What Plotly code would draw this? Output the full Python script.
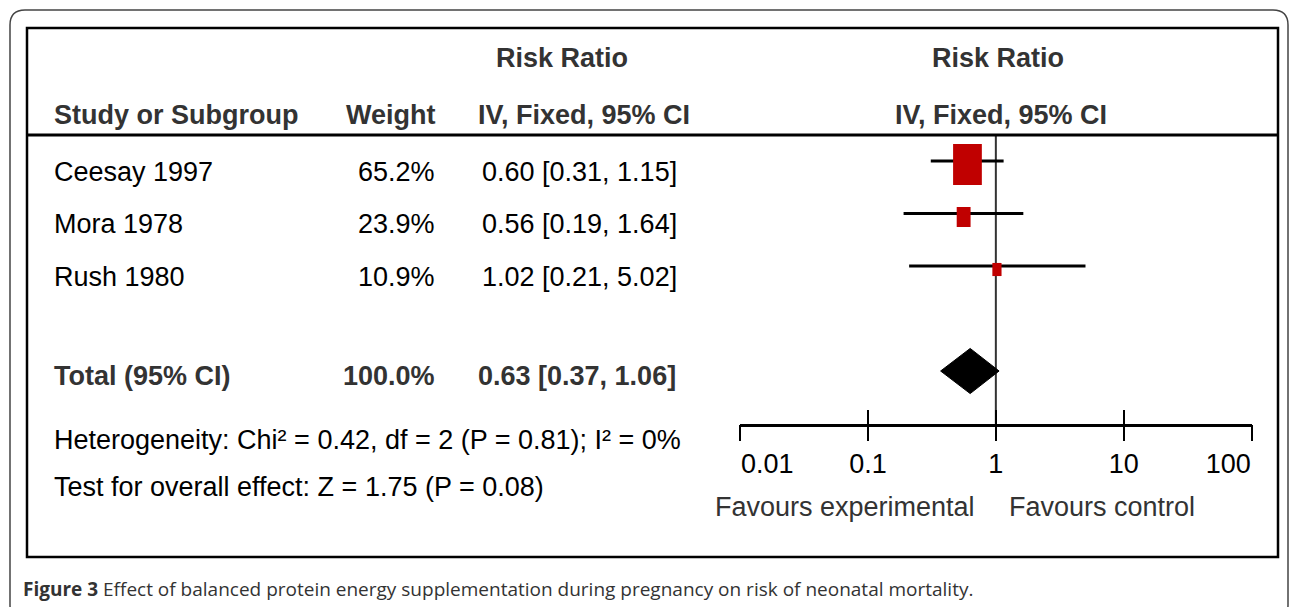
import numpy as np
import plotly.graph_objects as go

# ---------------- data ----------------
studies = ["Ceesay 1997", "Mora 1978", "Rush 1980"]
weights = [65.2, 23.9, 10.9]
rr = [0.60, 0.56, 1.02]
ci_low = [0.31, 0.19, 0.21]
ci_high = [1.15, 1.64, 5.02]

total_label = "Total (95% CI)"
total_weight = 100.0
total_rr = 0.63
total_low = 0.37
total_high = 1.06

tick_values = [0.01, 0.1, 1, 10, 100]
tick_labels = ["0.01", "0.1", "1", "10", "100"]

heterogeneity = "Heterogeneity: Chi² = 0.42, df = 2 (P = 0.81); I² = 0%"
overall_effect = "Test for overall effect: Z = 1.75 (P = 0.08)"
favours_left = "Favours experimental"
favours_right = "Favours control"
caption_bold = "Figure 3"
caption_text = "Effect of balanced protein energy supplementation during pregnancy on risk of neonatal mortality."

# ---------------- layout helpers ----------------
W, H = 1290, 607
def px(x):
    return x / W
def py(y):
    return 1 - y / H

FONT = "Liberation Sans, Arial, sans-serif"
FS = 27
DARK = "#333333"

row_px0 = 161.0      # pixel row of first study mark
row_step = 52.5      # pixel distance between rows
ax_top, ax_bot = 135, 424
y_range = [(ax_bot - row_px0) / row_step, (ax_top - row_px0) / row_step]

lx = np.log10
study_rows = list(range(len(studies)))
total_row = len(studies) + 1
tv = [lx(v) for v in tick_values]

fig = go.Figure()

# CI lines
for i in study_rows:
    fig.add_trace(go.Scatter(
        x=[lx(ci_low[i]), lx(ci_high[i])], y=[i, i], mode="lines",
        line=dict(color="black", width=3), hoverinfo="skip", showlegend=False))

# total diamond
dh = 0.43
fig.add_trace(go.Scatter(
    x=[lx(total_low), lx(total_rr), lx(total_high), lx(total_rr), lx(total_low)],
    y=[total_row, total_row - dh, total_row, total_row + dh, total_row],
    mode="lines", fill="toself", fillcolor="black",
    line=dict(color="black", width=1), hoverinfo="skip", showlegend=False))

# invisible traces that attach the helper axes (inside ticks, end labels)
for ax in ["x2", "x3", "x4"]:
    fig.add_trace(go.Scatter(
        x=tv, y=[total_row] * len(tv), xaxis=ax, mode="markers",
        marker=dict(opacity=0), hoverinfo="skip", showlegend=False))

shapes = []
# study boxes (size from weight)
for i in study_rows:
    h = 7.5 + 0.515 * weights[i]
    w = 0.7 * h
    shapes.append(dict(
        type="rect", xref="x", yref="y", xsizemode="pixel", ysizemode="pixel",
        xanchor=lx(rr[i]), yanchor=i,
        x0=-w / 2, x1=w / 2, y0=-h / 2 - 3.5, y1=h / 2 - 3.5,
        fillcolor="#C00000", line=dict(width=0), layer="above"))

# line of no effect
shapes.append(dict(type="line", xref="x", yref="y domain", x0=0, x1=0, y0=0, y1=1,
                   line=dict(color="#333333", width=2), layer="below"))

# inner frame and header rule
shapes.append(dict(type="rect", xref="paper", yref="paper",
                   x0=px(27), x1=px(1278), y0=py(557), y1=py(28),
                   line=dict(color="black", width=2.5)))
shapes.append(dict(type="line", xref="paper", yref="paper",
                   x0=px(27), x1=px(1278), y0=py(135), y1=py(135),
                   line=dict(color="black", width=3)))

# outer rounded border
x0, x1, y0, y1, r = 10, 1288, 10, 620, 15
def P(x, y):
    return f"{px(x):.5f},{py(y):.5f}"
path = (f"M {P(x0 + r, y0)} L {P(x1 - r, y0)} Q {P(x1, y0)} {P(x1, y0 + r)} "
        f"L {P(x1, y1 - r)} Q {P(x1, y1)} {P(x1 - r, y1)} "
        f"L {P(x0 + r, y1)} Q {P(x0, y1)} {P(x0, y1 - r)} "
        f"L {P(x0, y0 + r)} Q {P(x0, y0)} {P(x0 + r, y0)} Z")
shapes.append(dict(type="path", xref="paper", yref="paper", path=path,
                   line=dict(color="#444444", width=1.5)))

ann = []
def text(x, y, s, anchor="left", color="black", bold=False, size=FS, family=FONT,
         yref="paper", yshift=0):
    ann.append(dict(
        x=px(x), y=(py(y) if yref == "paper" else y), xref="paper", yref=yref,
        text=(f"<b>{s}</b>" if bold else s), showarrow=False,
        xanchor=anchor, yanchor="middle", yshift=yshift,
        font=dict(family=family, size=size, color=color)))

# headers
text(52, 115, "Study or Subgroup", bold=True, color=DARK)
text(438, 115, "Weight", anchor="right", bold=True, color=DARK)
text(561.5, 58, "Risk Ratio", anchor="center", bold=True, color=DARK)
text(583.5, 115, "IV, Fixed, 95% CI", anchor="center", bold=True, color=DARK)
text(997.5, 58, "Risk Ratio", anchor="center", bold=True, color=DARK)
text(1000.5, 115, "IV, Fixed, 95% CI", anchor="center", bold=True, color=DARK)

# study rows
for i in study_rows:
    text(52, i, studies[i], yref="y", yshift=-11)
    text(437, i, f"{weights[i]:.1f}%", anchor="right", yref="y", yshift=-11)
    text(679, i, f"{rr[i]:.2f} [{ci_low[i]:.2f}, {ci_high[i]:.2f}]",
         anchor="right", yref="y", yshift=-11)

# total row
text(52, total_row, total_label, yref="y", bold=True, color=DARK, yshift=-5)
text(437, total_row, f"{total_weight:.1f}%", anchor="right", yref="y",
     bold=True, color=DARK, yshift=-5)
text(678, total_row, f"{total_rr:.2f} [{total_low:.2f}, {total_high:.2f}]",
     anchor="right", yref="y", bold=True, color=DARK, yshift=-5)

# footnotes
text(52, 440, heterogeneity)
text(52, 487, overall_effect)
text(844.5, 507, favours_left, anchor="center", color=DARK)
text(1101.5, 507, favours_right, anchor="center", color=DARK)

# caption
ann.append(dict(x=px(21), y=py(589), xref="paper", yref="paper",
                text=f"<b>{caption_bold}</b> {caption_text}", showarrow=False,
                xanchor="left", yanchor="middle",
                font=dict(family="Open Sans, sans-serif", size=19, color="#333333")))

xdom = [px(740), px(1251.7)]
xrng = [tv[0], tv[-1]]
tickfont = dict(family=FONT, size=FS, color="black")
inner_text = [""] + tick_labels[1:-1] + [""]
common = dict(domain=xdom, range=xrng, showgrid=False, zeroline=False, anchor="y",
              fixedrange=True, automargin=False)
fig.update_layout(
    template="none",
    width=W, height=H, autosize=False,
    margin=dict(l=0, r=0, t=0, b=0, pad=0, autoexpand=False),
    paper_bgcolor="white", plot_bgcolor="rgba(0,0,0,0)",
    showlegend=False,
    # main axis: line, outside ticks, centred inner labels
    xaxis=dict(**common, tickvals=tv, ticktext=inner_text, ticks="outside",
               ticklen=14, tickwidth=2, tickcolor="black", showline=True,
               linecolor="black", linewidth=3, ticklabelstandoff=0, tickfont=tickfont),
    # inside half of the crossing ticks
    xaxis2=dict(**common, overlaying="x", matches="x", side="bottom",
                tickvals=tv, ticks="inside", ticklen=14, tickwidth=2,
                tickcolor="black", showticklabels=False, showline=False),
    # first label, starting at its tick
    xaxis3=dict(**common, overlaying="x", matches="x", side="bottom",
                tickvals=tv[:1], ticktext=tick_labels[:1], ticks="outside",
                ticklen=14, tickwidth=2, tickcolor="black", showline=False,
                ticklabelposition="outside right", ticklabelstandoff=16,
                tickfont=tickfont),
    # last label, ending at its tick
    xaxis4=dict(**common, overlaying="x", matches="x", side="bottom",
                tickvals=tv[-1:], ticktext=tick_labels[-1:], ticks="outside",
                ticklen=14, tickwidth=2, tickcolor="black", showline=False,
                ticklabelposition="outside left", ticklabelstandoff=16,
                tickfont=tickfont),
    yaxis=dict(domain=[py(ax_bot), py(ax_top)], range=y_range, visible=False,
               automargin=False, showgrid=False, zeroline=False, fixedrange=True),
    shapes=shapes, annotations=ann,
)

fig.write_html("out.html", config={"displayModeBar": False},
               post_script="document.body.style.margin='0';")
